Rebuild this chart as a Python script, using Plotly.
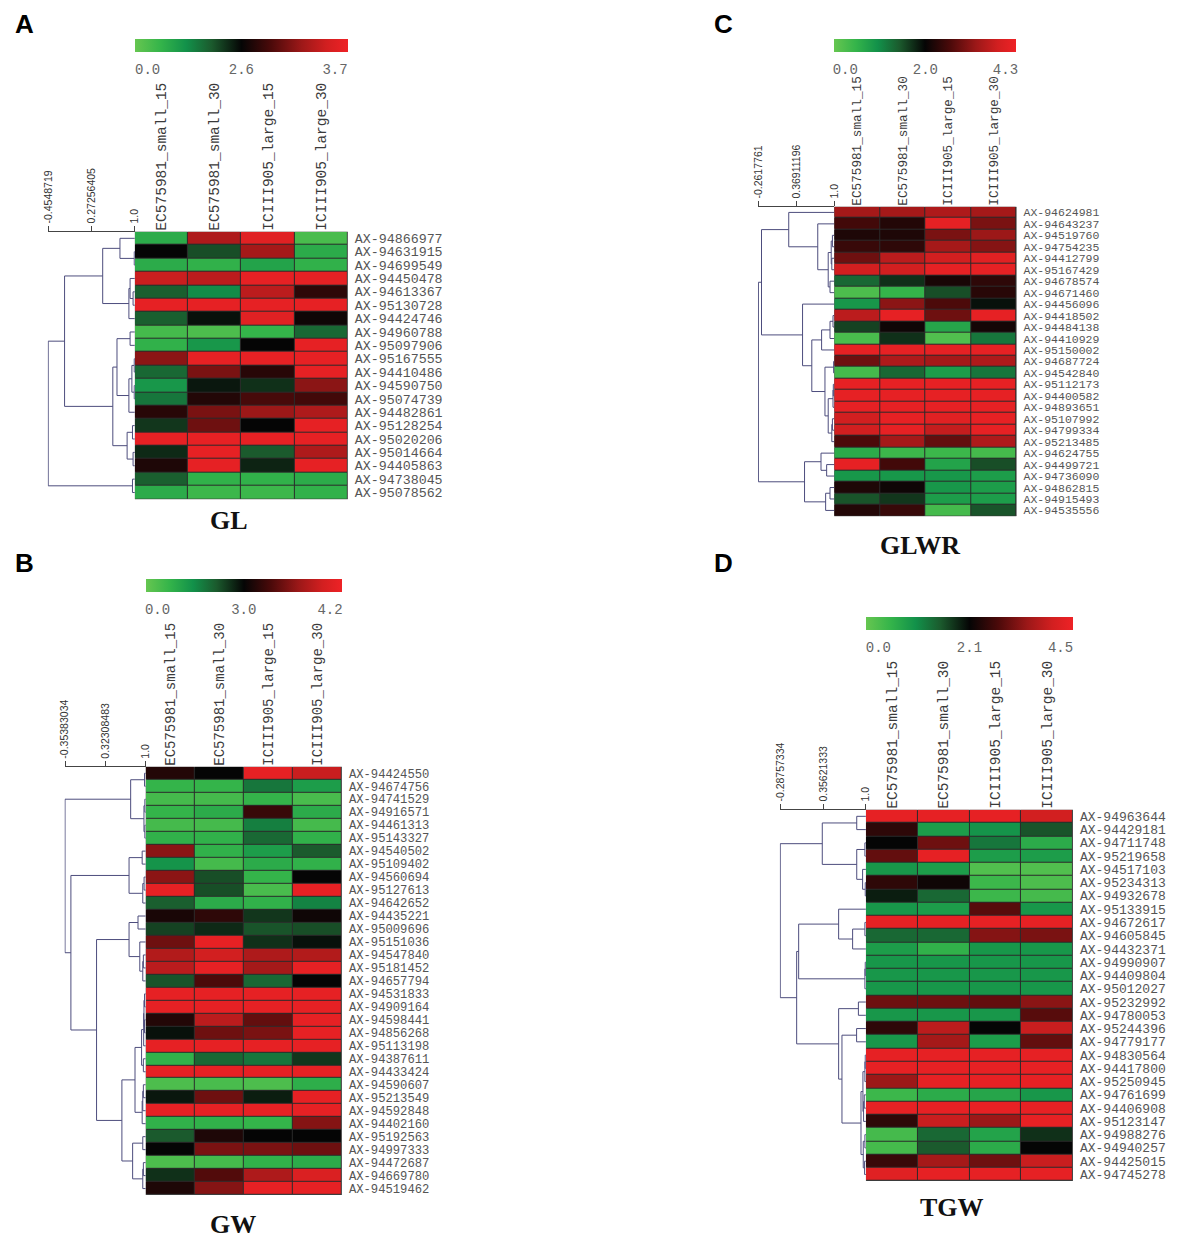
import plotly.graph_objects as go

W, H = 1179, 1238
OFF = 8  # the page body adds an 8px margin round the figure
FW, FH = W - OFF, H - OFF

samples = ["EC575981_small_15", "EC575981_small_30", "ICIII905_large_15", "ICIII905_large_30"]

# ---- panel A : GL ----
gl_markers = [
    "AX-94866977", "AX-94631915", "AX-94699549", "AX-94450478", "AX-94613367",
    "AX-95130728", "AX-94424746", "AX-94960788", "AX-95097906", "AX-95167555",
    "AX-94410486", "AX-94590750", "AX-95074739", "AX-94482861", "AX-95128254",
    "AX-95020206", "AX-95014664", "AX-94405863", "AX-94738045", "AX-95078562",
]
gl_values = [
    [0.15, 0.82, 0.95, 0.07], [0.50, 0.38, 0.80, 0.15], [0.15, 0.13, 0.18, 0.13],
    [0.88, 0.85, 0.97, 0.97], [0.35, 0.25, 0.85, 0.58], [0.97, 0.97, 0.97, 0.97],
    [0.35, 0.48, 0.95, 0.52], [0.08, 0.06, 0.12, 0.33], [0.13, 0.22, 0.50, 0.97],
    [0.75, 0.97, 0.97, 0.97], [0.33, 0.72, 0.57, 0.97], [0.22, 0.47, 0.43, 0.75],
    [0.30, 0.56, 0.63, 0.62], [0.57, 0.72, 0.78, 0.82], [0.42, 0.70, 0.50, 0.97],
    [0.97, 0.97, 0.97, 0.97], [0.44, 0.97, 0.36, 0.82], [0.55, 0.97, 0.45, 0.97],
    [0.35, 0.13, 0.13, 0.15], [0.15, 0.10, 0.10, 0.13],
]
# merges: (child, child, similarity); ids >= n point to earlier merges
gl_merges = [
    (1, 2, 0.99), (0, 20, 0.75), (4, 5, 0.97), (3, 22, 0.92), (23, 6, 0.90),
    (21, 24, 0.46), (7, 8, 0.92), (9, 10, 0.99), (11, 12, 0.99), (27, 28, 0.95),
    (29, 13, 0.90), (26, 30, 0.70), (14, 15, 0.96), (16, 17, 0.97), (32, 33, 0.87),
    (31, 34, 0.63), (25, 35, -0.18), (18, 19, 0.96), (36, 37, -0.4548719),
]
gl_scale = ["-0.4548719", "0.27256405", "1.0"]
gl_cbar = ["0.0", "2.6", "3.7"]

# ---- panel B : GW ----
gw_markers = [
    "AX-94424550", "AX-94674756", "AX-94741529", "AX-94916571", "AX-94461313",
    "AX-95143327", "AX-94540502", "AX-95109402", "AX-94560694", "AX-95127613",
    "AX-94642652", "AX-94435221", "AX-95009696", "AX-95151036", "AX-94547840",
    "AX-95181452", "AX-94657794", "AX-94531833", "AX-94909164", "AX-94598441",
    "AX-94856268", "AX-95113198", "AX-94387611", "AX-94433424", "AX-94590607",
    "AX-95213549", "AX-94592848", "AX-94402160", "AX-95192563", "AX-94997333",
    "AX-94472687", "AX-94669780", "AX-94519462",
]
gw_values = [
    [0.56, 0.50, 0.97, 0.88], [0.12, 0.12, 0.30, 0.20], [0.08, 0.08, 0.12, 0.07],
    [0.12, 0.15, 0.60, 0.15], [0.08, 0.08, 0.28, 0.08], [0.13, 0.13, 0.33, 0.13],
    [0.75, 0.13, 0.20, 0.36], [0.23, 0.08, 0.15, 0.13], [0.75, 0.38, 0.12, 0.50],
    [0.97, 0.38, 0.07, 0.97], [0.35, 0.15, 0.13, 0.27], [0.54, 0.58, 0.42, 0.52],
    [0.40, 0.44, 0.37, 0.38], [0.70, 0.97, 0.43, 0.48], [0.83, 0.90, 0.82, 0.83],
    [0.85, 0.97, 0.80, 0.97], [0.37, 0.64, 0.33, 0.50], [0.97, 0.97, 0.97, 0.97],
    [0.97, 0.97, 0.97, 0.97], [0.56, 0.85, 0.68, 0.97], [0.48, 0.70, 0.72, 0.97],
    [0.97, 0.97, 0.97, 0.97], [0.13, 0.33, 0.30, 0.42], [0.97, 0.97, 0.97, 0.97],
    [0.06, 0.07, 0.06, 0.14], [0.47, 0.70, 0.46, 0.97], [0.97, 0.97, 0.97, 0.97],
    [0.13, 0.13, 0.12, 0.74], [0.36, 0.55, 0.50, 0.50], [0.50, 0.72, 0.72, 0.70],
    [0.06, 0.08, 0.13, 0.15], [0.43, 0.65, 0.82, 0.93], [0.55, 0.74, 0.97, 0.97],
]
gw_merges = [
    (0, 1, 0.98), (2, 3, 0.985), (4, 5, 0.985), (34, 35, 0.97), (33, 36, 0.747),
    (6, 7, 0.94), (8, 9, 0.972), (39, 10, 0.95), (38, 40, 0.72), (11, 12, 0.87),
    (14, 15, 0.96), (43, 16, 0.95), (13, 44, 0.90), (42, 45, 0.72), (17, 18, 0.98),
    (19, 20, 0.98), (47, 48, 0.97), (49, 21, 0.965), (22, 23, 0.96), (50, 51, 0.93),
    (24, 25, 0.96), (53, 26, 0.95), (54, 27, 0.94), (52, 55, 0.82), (28, 29, 0.95),
    (30, 31, 0.96), (58, 32, 0.95), (57, 59, 0.78), (56, 60, 0.60), (46, 61, 0.175),
    (41, 62, -0.255), (37, 63, -0.35383034),
]
gw_scale = ["-0.35383034", "0.32308483", "1.0"]
gw_cbar = ["0.0", "3.0", "4.2"]

# ---- panel C : GLWR ----
glwr_markers = [
    "AX-94624981", "AX-94643237", "AX-94519760", "AX-94754235", "AX-94412799",
    "AX-95167429", "AX-94678574", "AX-94671460", "AX-94456096", "AX-94418502",
    "AX-94484138", "AX-94410929", "AX-95150002", "AX-94687724", "AX-94542840",
    "AX-95112173", "AX-94400582", "AX-94893651", "AX-95107992", "AX-94799334",
    "AX-95213485", "AX-94624755", "AX-94499721", "AX-94736090", "AX-94862815",
    "AX-94915493", "AX-94535556",
]
glwr_values = [
    [0.80, 0.80, 0.82, 0.80], [0.62, 0.56, 0.97, 0.72], [0.55, 0.55, 0.72, 0.78],
    [0.60, 0.58, 0.80, 0.74], [0.70, 0.85, 0.90, 0.95], [0.90, 0.90, 0.97, 0.97],
    [0.33, 0.43, 0.54, 0.58], [0.06, 0.12, 0.38, 0.57], [0.22, 0.75, 0.64, 0.48],
    [0.85, 0.97, 0.70, 0.97], [0.40, 0.52, 0.17, 0.53], [0.07, 0.43, 0.05, 0.30],
    [0.97, 0.97, 0.97, 0.97], [0.70, 0.82, 0.80, 0.82], [0.08, 0.33, 0.20, 0.30],
    [0.97, 0.97, 0.97, 0.97], [0.97, 0.97, 0.97, 0.97], [0.97, 0.97, 0.97, 0.97],
    [0.90, 0.97, 0.95, 0.97], [0.90, 0.97, 0.87, 0.97], [0.64, 0.80, 0.68, 0.82],
    [0.15, 0.10, 0.10, 0.08], [0.97, 0.62, 0.18, 0.38], [0.22, 0.22, 0.22, 0.20],
    [0.55, 0.52, 0.22, 0.20], [0.37, 0.42, 0.20, 0.20], [0.56, 0.60, 0.08, 0.37],
]
glwr_merges = [
    (2, 3, 0.97), (4, 5, 0.96), (27, 28, 0.95), (6, 7, 0.93), (29, 30, 0.90),
    (1, 31, 0.726), (0, 32, 0.243), (9, 10, 0.98), (34, 11, 0.93), (35, 12, 0.79),
    (13, 14, 0.99), (15, 16, 0.985), (38, 17, 0.98), (18, 19, 0.97), (40, 20, 0.96),
    (39, 41, 0.90), (37, 42, 0.846), (36, 43, 0.627), (8, 44, 0.473), (33, 45, -0.21),
    (22, 23, 0.874), (21, 47, 0.78), (24, 25, 0.93), (49, 26, 0.857), (48, 50, 0.506),
    (46, 51, -0.2617761),
]
glwr_scale = ["-0.2617761", "0.36911196", "1.0"]
glwr_cbar = ["0.0", "2.0", "4.3"]

# ---- panel D : TGW ----
tgw_markers = [
    "AX-94963644", "AX-94429181", "AX-94711748", "AX-95219658", "AX-94517103",
    "AX-95234313", "AX-94932678", "AX-95133915", "AX-94672617", "AX-94605845",
    "AX-94432371", "AX-94990907", "AX-94409804", "AX-95012027", "AX-95232992",
    "AX-94780053", "AX-95244396", "AX-94779177", "AX-94830564", "AX-94417800",
    "AX-95250945", "AX-94761699", "AX-94406908", "AX-95123147", "AX-94988276",
    "AX-94940257", "AX-94425015", "AX-94745278",
]
tgw_values = [
    [0.97, 0.97, 0.97, 0.90], [0.58, 0.20, 0.23, 0.37], [0.50, 0.70, 0.30, 0.15],
    [0.68, 0.97, 0.20, 0.20], [0.22, 0.20, 0.05, 0.05], [0.58, 0.52, 0.10, 0.06],
    [0.46, 0.33, 0.10, 0.08], [0.22, 0.20, 0.66, 0.22], [0.97, 0.97, 0.97, 0.97],
    [0.33, 0.33, 0.74, 0.72], [0.20, 0.13, 0.22, 0.22], [0.22, 0.22, 0.22, 0.22],
    [0.22, 0.22, 0.22, 0.22], [0.22, 0.22, 0.22, 0.22], [0.70, 0.70, 0.68, 0.75],
    [0.22, 0.22, 0.22, 0.66], [0.58, 0.85, 0.50, 0.88], [0.22, 0.80, 0.20, 0.68],
    [0.97, 0.97, 0.97, 0.97], [0.97, 0.97, 0.97, 0.97], [0.78, 0.97, 0.97, 0.97],
    [0.10, 0.15, 0.17, 0.22], [0.97, 0.97, 0.97, 0.97], [0.58, 0.88, 0.78, 0.97],
    [0.08, 0.33, 0.18, 0.43], [0.08, 0.36, 0.15, 0.50], [0.60, 0.80, 0.70, 0.88],
    [0.95, 0.97, 0.97, 0.97],
]
tgw_merges = [
    (0, 1, 0.862), (2, 3, 0.985), (5, 6, 0.99), (4, 30, 0.95), (29, 31, 0.862),
    (28, 32, 0.344), (8, 9, 0.985), (34, 10, 0.80), (7, 35, 0.59), (11, 12, 0.99),
    (37, 13, 0.985), (36, 38, -0.011), (14, 15, 0.887), (16, 17, 0.86), (18, 19, 0.99),
    (42, 20, 0.985), (21, 22, 0.975), (44, 23, 0.965), (43, 45, 0.955), (24, 25, 0.985),
    (26, 27, 0.98), (47, 48, 0.96), (46, 49, 0.926), (41, 50, 0.64), (40, 51, 0.59),
    (39, 52, -0.041), (33, 53, -0.28757334),
]
tgw_scale = ["-0.28757334", "0.35621333", "1.0"]
tgw_cbar = ["0.0", "2.1", "4.5"]

colorscale = [
    [0.0, "#66c650"], [0.12, "#34b44a"], [0.24, "#12914a"], [0.36, "#1b5a2d"],
    [0.5, "#050505"], [0.64, "#4c0a0a"], [0.78, "#9c1818"], [0.9, "#d21f20"],
    [1.0, "#ee2226"],
]


def px_x(v):
    return (v - OFF) / FW


def px_y(v):
    return 1 - (v - OFF) / FH


def dendro_lines(merges, n):
    ypos = [float(i) for i in range(n)]
    xpos = [1.0] * n
    xs, ys = [], []
    for a, b, h in merges:
        xs += [xpos[a], h, h, xpos[b], None]
        ys += [ypos[a], ypos[a], ypos[b], ypos[b], None]
        ypos.append((ypos[a] + ypos[b]) / 2)
        xpos.append(h)
    return xs, ys


# pixel boxes of each panel (heatmap x0, x1, y0, y1), dendrogram left edge, colorbar, text spots
panels = [
    dict(name="GL", letter="A", markers=gl_markers, values=gl_values, merges=gl_merges,
         scale=gl_scale, cbar=gl_cbar, heat=(130, 345, 232, 500), dx0=42, cby=39,
         title=(225, 521), letter_xy=(8, 8), colfont=14.5, rowfont=13.3),
    dict(name="GW", letter="B", markers=gw_markers, values=gw_values, merges=gw_merges,
         scale=gw_scale, cbar=gw_cbar, heat=(141, 339, 768, 1197), dx0=59, cby=580,
         title=(229, 1226), letter_xy=(8, 548), colfont=14, rowfont=12.2),
    dict(name="GLWR", letter="C", markers=glwr_markers, values=glwr_values, merges=glwr_merges,
         scale=glwr_scale, cbar=glwr_cbar, heat=(836, 1020, 207, 517), dx0=759, cby=39,
         title=(923, 546), letter_xy=(714, 8), colfont=12.7, rowfont=11.5),
    dict(name="TGW", letter="D", markers=tgw_markers, values=tgw_values, merges=tgw_merges,
         scale=tgw_scale, cbar=tgw_cbar, heat=(868, 1077, 811, 1183), dx0=781, cby=618,
         title=(955, 1209), letter_xy=(714, 548), colfont=14.5, rowfont=13),
]

fig = go.Figure()
layout = {}
shapes = []
annotations = []

for k, p in enumerate(panels):
    hx_id = "x" if k == 0 else f"x{2 * k + 1}"
    dx_id = f"x{2 * k + 2}"
    hy_id = "y" if k == 0 else f"y{k + 1}"
    hx_key = "xaxis" if k == 0 else f"xaxis{2 * k + 1}"
    dx_key = f"xaxis{2 * k + 2}"
    hy_key = "yaxis" if k == 0 else f"yaxis{k + 1}"

    x0, x1, y0, y1 = p["heat"]
    n = len(p["markers"])
    ncol = len(samples)

    fig.add_trace(go.Heatmap(
        z=p["values"], x=list(range(ncol)), y=list(range(n)),
        xaxis=hx_id, yaxis=hy_id, colorscale=colorscale, zmin=0, zmax=1,
        xgap=1, ygap=1, hoverinfo="skip",
        colorbar=dict(
            orientation="h", x=(px_x(x0) + px_x(x1)) / 2, xanchor="center",
            y=px_y(p["cby"]), yanchor="top", len=(x1 - x0) / FW, lenmode="fraction",
            thickness=13, thicknessmode="pixels", outlinewidth=0, xpad=0, ypad=0,
            tickvals=[0.06, 0.5, 0.94], ticktext=p["cbar"],
            ticks="outside", ticklen=6, tickcolor="rgba(0,0,0,0)",
            tickfont=dict(family="Liberation Mono", size=14, color="#666666"),
        ),
    ))

    xs, ys = dendro_lines(p["merges"], n)
    fig.add_trace(go.Scatter(
        x=xs, y=ys, mode="lines", xaxis=dx_id, yaxis=hy_id,
        line=dict(color="#4d4d7d", width=1), hoverinfo="skip", showlegend=False,
    ))

    lo = float(p["scale"][0])
    layout[hx_key] = dict(
        domain=[px_x(x0), px_x(x1)], anchor=hy_id, side="top", range=[-0.5, ncol - 0.5],
        tickvals=list(range(ncol)), ticktext=samples, tickangle=-90,
        tickfont=dict(family="Liberation Mono", size=p["colfont"], color="#3a3a3a"),
        showgrid=False, zeroline=False, showline=False, ticks="", fixedrange=True,
    )
    layout[hy_key] = dict(
        domain=[px_y(y1), px_y(y0)], anchor=hx_id, side="right", range=[n - 0.5, -0.5],
        tickvals=list(range(n)), ticktext=p["markers"], ticklabelstandoff=6,
        tickfont=dict(family="Liberation Mono", size=p["rowfont"], color="#555555"),
        showgrid=False, zeroline=False, showline=False, ticks="", fixedrange=True,
    )
    layout[dx_key] = dict(
        domain=[px_x(p["dx0"]), px_x(x0)], anchor=hy_id, side="top",
        range=[lo - 0.006 * (1 - lo), 1.0],
        tickvals=[float(t) for t in p["scale"]], ticktext=p["scale"], tickangle=-90,
        tickfont=dict(family="Liberation Sans", size=10.5, color="#333333"),
        ticks="outside", ticklen=5, tickcolor="#444444", showline=True,
        linecolor="#444444", linewidth=1, showgrid=False, zeroline=False, fixedrange=True,
    )

    # dark backing so the cell gaps read as grid lines
    shapes.append(dict(
        type="rect", xref=hx_id, yref=hy_id, x0=-0.5, x1=ncol - 0.5, y0=-0.5, y1=n - 0.5,
        fillcolor="#2b2b2b", line=dict(color="#555555", width=1), layer="below",
    ))

    tx, ty = p["title"]
    annotations.append(dict(
        text=f"<b>{p['name']}</b>", x=px_x(tx), y=px_y(ty), xref="paper", yref="paper",
        xanchor="center", yanchor="middle", showarrow=False,
        font=dict(family="Liberation Serif", size=26, color="#111111"),
    ))
    lx, ly = p["letter_xy"]
    annotations.append(dict(
        text=f"<b>{p['letter']}</b>", x=px_x(lx), y=px_y(ly), xref="paper", yref="paper",
        xanchor="left", yanchor="top", showarrow=False, borderpad=0,
        font=dict(family="Liberation Sans", size=26, color="#000000"),
    ))

fig.update_layout(
    width=FW, height=FH, margin=dict(l=0, r=0, t=0, b=0),
    paper_bgcolor="white", plot_bgcolor="white", showlegend=False,
    shapes=shapes, annotations=annotations, **layout,
)

fig.write_html("out.html")
